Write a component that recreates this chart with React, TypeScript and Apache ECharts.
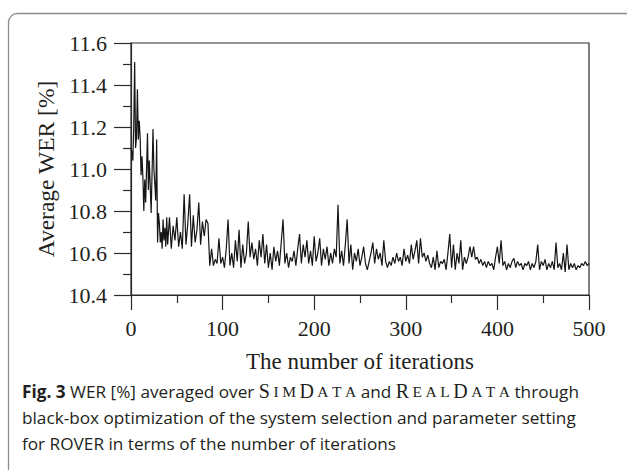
import React, { useEffect, useRef } from "react";
import * as echarts from "echarts";

// Iterations 0..39 (step 1)
const earlyWer = [
  11.10, 11.08, 11.04, 11.20, 11.51, 11.10, 11.15, 11.38, 11.14, 11.23,
  11.15, 10.97, 11.06, 10.96, 10.80, 10.95, 10.84, 11.00, 11.17, 10.90,
  11.04, 10.92, 10.79, 10.98, 11.19, 11.00, 10.93, 10.85, 11.14, 10.65,
  10.79, 10.74, 10.65, 10.70, 10.62, 10.76, 10.66, 10.72, 10.63, 10.77,
];

// Iterations 40..500 (step 2)
const lateWer = [
  10.64, 10.77, 10.62, 10.73, 10.66, 10.77, 10.63, 10.70, 10.62, 10.88,
  10.64, 10.74, 10.88, 10.63, 10.78, 10.65, 10.71, 10.84, 10.64, 10.75,
  10.68, 10.76, 10.74, 10.54, 10.62, 10.54, 10.57, 10.55, 10.67, 10.55,
  10.58, 10.53, 10.62, 10.76, 10.54, 10.60, 10.53, 10.66, 10.56, 10.71,
  10.53, 10.64, 10.55, 10.60, 10.75, 10.58, 10.65, 10.57, 10.62, 10.54,
  10.66, 10.58, 10.69, 10.55, 10.64, 10.53, 10.60, 10.52, 10.63, 10.56,
  10.61, 10.54, 10.65, 10.76, 10.55, 10.60, 10.53, 10.58, 10.56, 10.61,
  10.54, 10.62, 10.69, 10.55, 10.64, 10.58, 10.66, 10.55, 10.61, 10.54,
  10.68, 10.56, 10.60, 10.67, 10.54, 10.62, 10.57, 10.63, 10.54, 10.60,
  10.55, 10.62, 10.58, 10.83, 10.55, 10.61, 10.54, 10.64, 10.76, 10.55,
  10.64, 10.52, 10.60, 10.56, 10.62, 10.54, 10.58, 10.63, 10.55, 10.52,
  10.56, 10.60, 10.65, 10.55, 10.62, 10.57, 10.60, 10.54, 10.66, 10.56,
  10.53, 10.56, 10.54, 10.58, 10.55, 10.60, 10.56, 10.58, 10.54, 10.62,
  10.56, 10.59, 10.55, 10.64, 10.57, 10.61, 10.66, 10.55, 10.67, 10.58,
  10.60, 10.56, 10.59, 10.55, 10.53, 10.58, 10.52, 10.61, 10.53, 10.56,
  10.55, 10.57, 10.52, 10.60, 10.69, 10.53, 10.64, 10.52, 10.60, 10.55,
  10.66, 10.52, 10.58, 10.55, 10.58, 10.63, 10.58, 10.63, 10.57, 10.58,
  10.55, 10.57, 10.54, 10.56, 10.53, 10.56, 10.54, 10.55, 10.52, 10.58,
  10.63, 10.55, 10.66, 10.54, 10.56, 10.52, 10.55, 10.53, 10.56, 10.575,
  10.53, 10.56, 10.54, 10.55, 10.52, 10.55, 10.54, 10.56, 10.52, 10.55,
  10.53, 10.56, 10.64, 10.52, 10.56, 10.54, 10.57, 10.52, 10.55, 10.53,
  10.56, 10.52, 10.65, 10.53, 10.55, 10.52, 10.60, 10.51, 10.64, 10.52,
  10.55, 10.53, 10.55, 10.52, 10.54, 10.53, 10.55, 10.54, 10.56, 10.54,
  10.55,
];

const xTicks = [0, 100, 200, 300, 400, 500];
const yTicks = [10.4, 10.6, 10.8, 11.0, 11.2, 11.4, 11.6];

const xName = "The number of iterations";
const yName = "Average WER [%]";
const simData = "{sc|S}{scs|I}{scs|M}{sc|D}{scs|A}{scs|T}{scsEnd|A}";
const realData = "{sc|R}{scs|E}{scs|A}{scs|L}{sc|D}{scs|A}{scs|T}{scsEnd|A}";
const captionLines = [
  `{b|Fig. 3} WER [%] averaged over ${simData} and ${realData} through`,
  "black-box optimization of the system selection and parameter setting",
  "for ROVER in terms of the number of iterations",
];

const serif = "'Liberation Serif', 'Times New Roman', serif";
const sans = "'Open Sans', 'Noto Sans', sans-serif";

export default function App() {
  const ref = useRef<HTMLDivElement>(null);
  useEffect(() => {
    if (!ref.current) return;
    const chart = echarts.init(ref.current, null, { renderer: "svg" });
    const data = [
      ...earlyWer.map((v, i) => [i, v]),
      ...lateWer.map((v, i) => [40 + 2 * i, v]),
    ];
    const axisColor = "#2a2a2a";
    const textColor = "#231f20";
    const capSize = 17.2;
    const captionRich = {
      b: { fontFamily: sans, fontWeight: "bold", fontSize: capSize, color: textColor },
      sc: { fontFamily: serif, fontSize: 20, color: textColor, padding: [0, 3.5, 0, 0] },
      scs: { fontFamily: serif, fontSize: 15.5, color: textColor, padding: [0, 3.5, 0, 0] },
      scsEnd: { fontFamily: serif, fontSize: 15.5, color: textColor },
    };
    chart.setOption({
      animation: false,
      backgroundColor: "#ffffff",
      grid: {
        left: 131,
        right: 38,
        top: 43,
        bottom: 175,
        show: true,
        borderColor: axisColor,
        borderWidth: 1.2,
        backgroundColor: "transparent",
      },
      xAxis: {
        type: "value",
        min: xTicks[0],
        max: xTicks[xTicks.length - 1],
        interval: 100,
        name: xName,
        nameLocation: "middle",
        nameGap: 55,
        nameTextStyle: { fontFamily: serif, fontSize: 23, color: textColor },
        axisLine: { lineStyle: { color: axisColor, width: 1.2 } },
        axisTick: { show: true, length: 15, lineStyle: { color: axisColor, width: 1.2 } },
        minorTick: { show: true, splitNumber: 2, length: 8, lineStyle: { color: axisColor, width: 1.2 } },
        axisLabel: { fontFamily: serif, fontSize: 22, color: textColor, margin: 22 },
        splitLine: { show: false },
      },
      yAxis: {
        type: "value",
        min: yTicks[0],
        max: yTicks[yTicks.length - 1],
        interval: 0.2,
        name: yName,
        nameLocation: "middle",
        nameGap: 68,
        nameTextStyle: { fontFamily: serif, fontSize: 23.5, color: textColor },
        axisLine: { show: true, lineStyle: { color: axisColor, width: 1.2 } },
        axisTick: { show: true, length: 17, lineStyle: { color: axisColor, width: 1.2 } },
        minorTick: { show: true, splitNumber: 2, length: 8, lineStyle: { color: axisColor, width: 1.2 } },
        axisLabel: {
          fontFamily: serif,
          fontSize: 22,
          color: textColor,
          margin: 24,
          formatter: (v: number) => v.toFixed(1),
        },
        splitLine: { show: false },
      },
      series: [
        {
          type: "line",
          data,
          showSymbol: false,
          symbol: "none",
          lineStyle: { color: "#151515", width: 1.2 },
        },
      ],
      graphic: [
        {
          type: "rect",
          shape: { x: 8.5, y: 13.5, width: 700, height: 520, r: 9 },
          style: { fill: "none", stroke: "#8c8c8c", lineWidth: 1.3 },
          silent: true,
        },
        ...captionLines.map((t, i) => ({
          type: "text",
          x: 22,
          y: 391 + i * 26,
          style: {
            text: t,
            rich: captionRich,
            fontFamily: sans,
            fontSize: capSize,
            fill: textColor,
            verticalAlign: "middle",
          },
          silent: true,
        })),
      ],
    });
    return () => chart.dispose();
  }, []);
  return <div ref={ref} style={{ width: 627, height: 470, position: "absolute", left: 0, top: 0 }} />;
}
